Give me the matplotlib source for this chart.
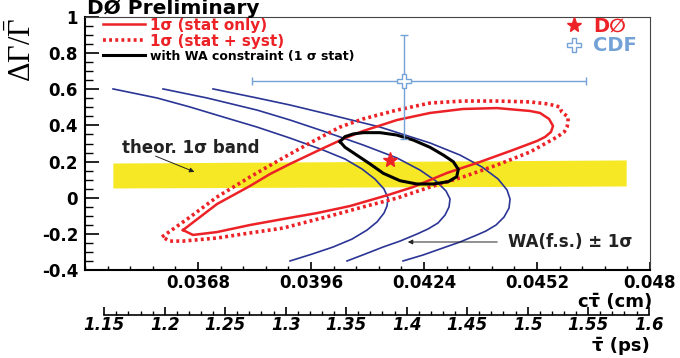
import numpy as np
import matplotlib
matplotlib.use('Agg')
import matplotlib.pyplot as plt
from matplotlib.lines import Line2D

plt.rcParams['font.family'] = ['DejaVu Sans']
plt.rcParams['mathtext.fontset'] = 'dejavusans'
plt.rcParams['mathtext.rm'] = 'Liberation Serif'
plt.rcParams['mathtext.it'] = 'Liberation Serif:italic'
plt.rcParams['mathtext.bf'] = 'Liberation Serif:bold'

C_LIGHT = 0.0299792  # cm / ps

# --- data: x = c*tau (cm), y = dGamma/Gamma ---
stat_x = [0.036428, 0.037271, 0.038089, 0.038584, 0.039080, 0.039749, 0.040393,
          0.040889, 0.041731, 0.042549, 0.043367, 0.044209, 0.045027, 0.045275,
          0.045498, 0.045597, 0.045547, 0.045399, 0.045201, 0.044606, 0.043788,
          0.042970, 0.042128, 0.041508, 0.040567, 0.039749, 0.038906, 0.038089,
          0.037271, 0.036676, 0.036428]
stat_y = [-0.179, -0.035, 0.065, 0.131, 0.187, 0.258, 0.325,
          0.369, 0.430, 0.469, 0.491, 0.496, 0.480, 0.469,
          0.436, 0.397, 0.364, 0.336, 0.314, 0.264, 0.198,
          0.137, 0.059, 0.015, -0.046, -0.085, -0.118, -0.151,
          -0.190, -0.206, -0.179]

syst_x = [0.035908, 0.036602, 0.037271, 0.038089, 0.038906, 0.039576, 0.040319,
          0.040889, 0.041731, 0.042549, 0.043367, 0.044209, 0.045027, 0.045473,
          0.045770, 0.045813, 0.045969, 0.045969, 0.045944, 0.045874, 0.045696,
          0.045027, 0.044209, 0.043367, 0.042549, 0.041731, 0.040889, 0.040071,
          0.038906, 0.038089, 0.037271, 0.036428, 0.036106, 0.035908]
syst_y = [-0.217, -0.107, 0.004, 0.115, 0.220, 0.303, 0.391,
          0.436, 0.485, 0.524, 0.535, 0.535, 0.530, 0.519,
          0.502, 0.474, 0.447, 0.419, 0.391, 0.364, 0.336,
          0.253, 0.181, 0.115, 0.059, -0.002, -0.051, -0.101,
          -0.168, -0.195, -0.223, -0.240, -0.240, -0.217]

wa_x = [0.040319, 0.040443, 0.040649, 0.040896, 0.041310, 0.041724, 0.042135,
        0.042549, 0.042879, 0.043127, 0.043250, 0.043210, 0.043003, 0.042631,
        0.042220, 0.041806, 0.041392, 0.041062, 0.040733, 0.040443, 0.040319]
wa_y = [0.310, 0.338, 0.353, 0.360, 0.360, 0.347, 0.319,
        0.279, 0.236, 0.199, 0.157, 0.116, 0.089, 0.076,
        0.076, 0.094, 0.135, 0.187, 0.236, 0.279, 0.310]

# flavour-specific lifetime world average, central and +-1 sigma
fs_lo_x = [0.034694, 0.035784, 0.036602, 0.037420, 0.038262, 0.039080, 0.039898,
           0.040443, 0.040864, 0.041186, 0.041409, 0.041508, 0.041483, 0.041409,
           0.041236, 0.040988, 0.040616, 0.040145, 0.039625, 0.039080]
fs_lo_y = [0.602, 0.552, 0.502, 0.447, 0.391, 0.330, 0.264,
           0.214, 0.159, 0.103, 0.048, -0.002, -0.046, -0.085,
           -0.134, -0.179, -0.229, -0.273, -0.312, -0.350]
fs_mid_x = [0.035933, 0.037023, 0.038262, 0.039080, 0.039898, 0.040889, 0.041731,
            0.042301, 0.042698, 0.042946, 0.043045, 0.043020, 0.042921, 0.042747,
            0.042500, 0.042227, 0.041806, 0.041384, 0.040938, 0.040492]
fs_mid_y = [0.602, 0.552, 0.485, 0.430, 0.369, 0.292, 0.220,
            0.153, 0.092, 0.037, -0.007, -0.051, -0.096, -0.140,
            -0.173, -0.201, -0.240, -0.273, -0.312, -0.350]
fs_hi_x = [0.037172, 0.038262, 0.039080, 0.039898, 0.041310, 0.042549, 0.043293,
           0.043838, 0.044234, 0.044457, 0.044532, 0.044507, 0.044383, 0.044185,
           0.043937, 0.043714, 0.043293, 0.042871, 0.042376, 0.041880]
fs_hi_y = [0.602, 0.552, 0.513, 0.469, 0.391, 0.303, 0.236,
           0.170, 0.104, 0.043, -0.007, -0.057, -0.107, -0.151,
           -0.184, -0.206, -0.245, -0.278, -0.317, -0.350]

# theory band
band_x = [0.03469, 0.04741]
band_lo = [0.054, 0.065]
band_hi = [0.192, 0.209]

# measurements
d0_x, d0_y = 0.04156, 0.209
cdf_x, cdf_y = 0.04190, 0.646
cdf_xerr = [[0.04190 - 0.03814], [0.04642 - 0.04190]]
cdf_yerr = [[0.646 - 0.325], [0.90 - 0.646]]

x_ticks = [0.0368, 0.0396, 0.0424, 0.0452, 0.048]
x_ticklabels = ['0.0368', '0.0396', '0.0424', '0.0452', '0.048']
y_ticks = [-0.4, -0.2, 0, 0.2, 0.4, 0.6, 0.8, 1.0]
y_ticklabels = ['-0.4', '-0.2', '0', '0.2', '0.4', '0.6', '0.8', '1']
ps_ticklabels = ['1.15', '1.2', '1.25', '1.3', '1.35', '1.4', '1.45',
                 '1.5', '1.55', '1.6']

RED = '#ec2227'
NAVY = '#2b3595'
YELLOW = '#f7e825'
LBLUE = '#74a2d6'

fig = plt.figure(figsize=(6.8, 3.58), dpi=100)
ax = fig.add_axes([85 / 680, 1 - 270 / 358, 565 / 680, 253 / 358])

ax.fill_between(band_x, band_lo, band_hi, color=YELLOW, lw=0, zorder=1)
for fx, fy in [(fs_lo_x, fs_lo_y), (fs_mid_x, fs_mid_y), (fs_hi_x, fs_hi_y)]:
    ax.plot(fx, fy, color=NAVY, lw=1.2, zorder=2, solid_joinstyle='round')
l_stat, = ax.plot(stat_x, stat_y, color=RED, lw=1.8, zorder=3, solid_joinstyle='round')
l_syst, = ax.plot(syst_x, syst_y, color=RED, lw=2.6, ls=(0, (0.8, 0.9)), zorder=3)
l_wa, = ax.plot(wa_x, wa_y, color='black', lw=2.2, zorder=4, solid_joinstyle='round')

ax.errorbar([cdf_x], [cdf_y], xerr=cdf_xerr, yerr=cdf_yerr, fmt='none',
            ecolor=LBLUE, elinewidth=1.0, capsize=3, zorder=5)
ax.plot([cdf_x], [cdf_y], marker='P', ms=10, mfc='white', mec=LBLUE, mew=1.0,
        ls='none', zorder=6)
ax.plot([d0_x], [d0_y], marker='*', ms=11, color=RED, ls='none', zorder=6)

# annotations
ax.annotate('', xy=(0.036775, 0.137), xytext=(0.035685, 0.236),
            arrowprops=dict(arrowstyle='-|>', color='#222222', lw=0.7,
                            mutation_scale=7))
ax.text(0.034917, 0.275, 'theor. 1\u03c3 band', fontsize=12, fontweight='bold',
        color='#222222', ha='left', va='center')
ax.annotate('', xy=(0.041930, -0.245), xytext=(0.044284, -0.245),
            arrowprops=dict(arrowstyle='-|>', color='#222222', lw=0.7,
                            mutation_scale=7))
ax.text(0.044482, -0.245, 'WA(f.s.) \u00b1 1\u03c3', fontsize=12, fontweight='bold',
        color='#222222', ha='left', va='center')

# axes setup
ax.set_xlim(0.034, 0.048)
ax.set_ylim(-0.4, 1.0)
ax.set_xticks(x_ticks)
ax.set_xticklabels(x_ticklabels, fontweight='bold')
ax.set_xticks(np.arange(0.034, 0.04801, 0.00056), minor=True)
ax.set_yticks(y_ticks)
ax.set_yticklabels(y_ticklabels, fontweight='bold')
ax.set_yticks(np.arange(-0.4, 1.001, 0.05), minor=True)
ax.tick_params(axis='both', which='both', direction='in', top=False, right=False,
               labelsize=12)
ax.tick_params(axis='y', which='major', length=10, width=1.2, pad=5)
ax.tick_params(axis='y', which='minor', length=6, width=1.0)
ax.tick_params(axis='x', which='major', length=6, width=1.2, pad=3)
ax.tick_params(axis='x', which='minor', length=3, width=1.0)
for s in ['left', 'bottom']:
    ax.spines[s].set_linewidth(1.5)
for s in ['top', 'right']:
    ax.spines[s].set_linewidth(0.8)
    ax.spines[s].set_color('#444444')

# legends
leg1 = ax.legend([l_stat, l_syst, l_wa],
                 ['1\u03c3 (stat only)', '1\u03c3 (stat + syst)',
                  'with WA constraint (1 \u03c3 stat)'],
                 loc='upper left', bbox_to_anchor=(0.03, 1.0), frameon=False,
                 prop={'size': 11, 'weight': 'bold'}, handlelength=2.8,
                 handletextpad=0.3, labelspacing=0.05, borderpad=0.05,
                 borderaxespad=0)
t = leg1.get_texts()
t[0].set_color(RED)
t[1].set_color(RED)
t[2].set_fontsize(9)
ax.add_artist(leg1)

h_d0 = Line2D([], [], marker='*', ms=11, color=RED, ls='none')
h_cdf = Line2D([], [], marker='P', ms=10, mfc='white', mec=LBLUE, mew=1.0, ls='none')
leg2 = ax.legend([h_d0, h_cdf], ['D\u2205', 'CDF'], loc='upper right',
                 bbox_to_anchor=(0.98, 1.01), frameon=False,
                 prop={'size': 14, 'weight': 'bold'},
                 handlelength=1.0, handletextpad=0.5, labelspacing=0.05,
                 borderpad=0.1, borderaxespad=0)
t2 = leg2.get_texts()
t2[0].set_color(RED)
t2[1].set_color(LBLUE)

# titles and axis labels
fig.text(87 / 680, 1 - 9 / 358, 'D\u00d8 Preliminary', fontsize=14.5,
         fontweight='bold', ha='left', va='center')
fig.text(22 / 680, 1 - 50 / 358, r'$\mathrm{\Delta\Gamma/\bar{\Gamma}}$',
         fontsize=22, rotation=90, ha='center', va='center',
         math_fontfamily='custom')
fig.text(652 / 680, 1 - 302 / 358, 'c\u03c4\u0304 (cm)', fontsize=13,
         fontweight='bold', ha='right', va='center')

# second axis in ps
ax2 = fig.add_axes([85 / 680, 1 - 315 / 358, 565 / 680, 0.02])
ax2.patch.set_visible(False)
for s in ['left', 'right', 'top']:
    ax2.spines[s].set_visible(False)
ax2.set_xlim(0.034 / C_LIGHT, 0.048 / C_LIGHT)
ax2.spines['bottom'].set_bounds(1.15, 1.6)
ax2.spines['bottom'].set_linewidth(1.2)
ax2.set_yticks([])
ax2.set_xticks(np.arange(1.15, 1.601, 0.05))
ax2.set_xticklabels(ps_ticklabels, fontstyle='italic', fontweight='bold', fontsize=12)
ax2.set_xticks(np.arange(1.15, 1.601, 0.01), minor=True)
ax2.tick_params(axis='x', which='major', direction='in', length=6, width=1.2, pad=1)
ax2.tick_params(axis='x', which='minor', direction='in', length=3, width=1.0)
fig.text(650 / 680, 1 - 346 / 358, '\u03c4\u0304 (ps)', fontsize=13,
         fontweight='bold', ha='right', va='center')

fig.savefig('out.png', dpi=100)
